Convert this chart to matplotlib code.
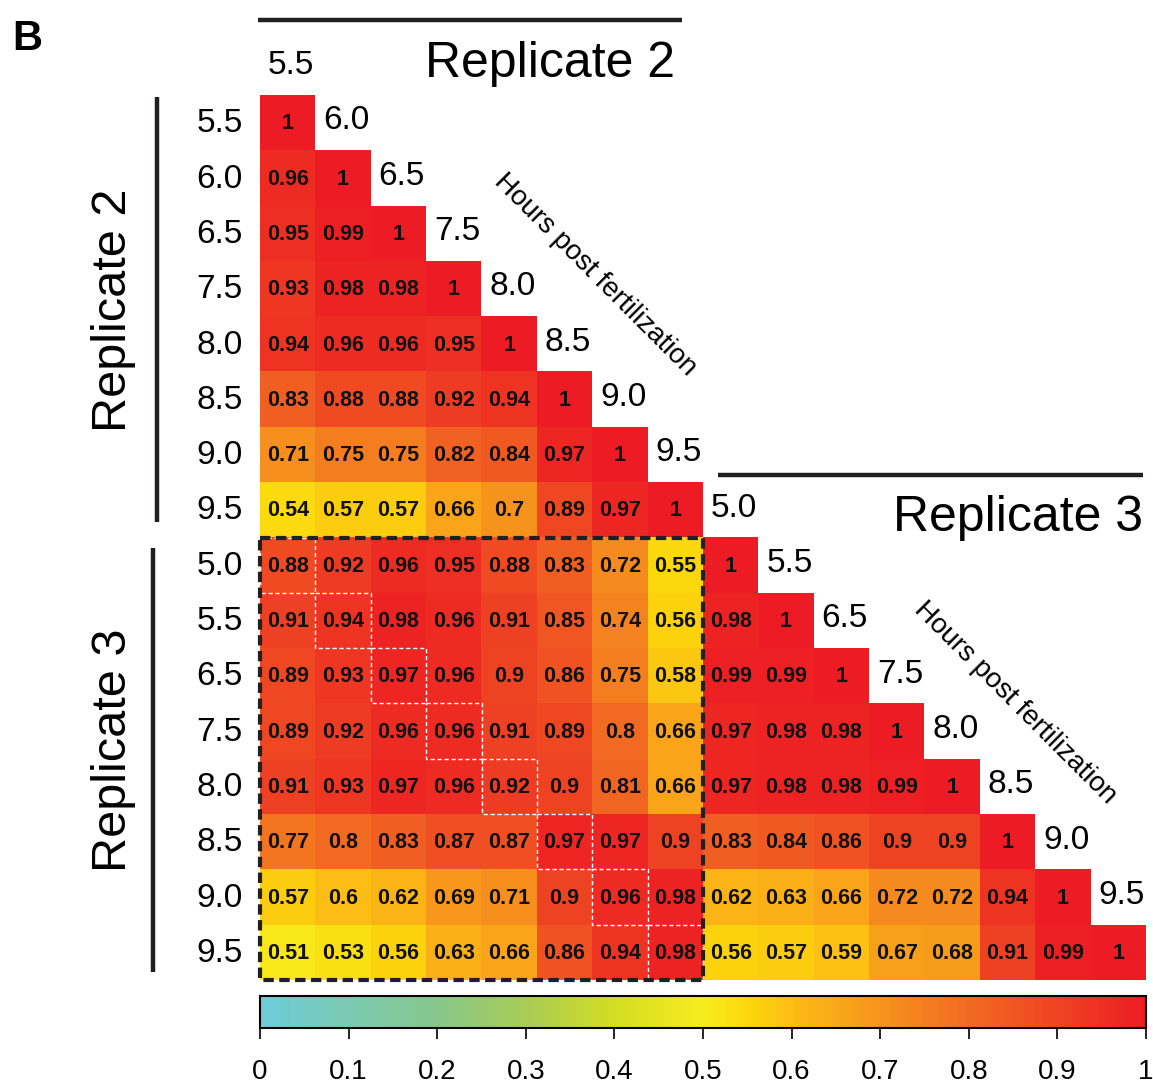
import numpy as np
import matplotlib
matplotlib.use("Agg")
import matplotlib.pyplot as plt
from matplotlib.colors import LinearSegmentedColormap
from matplotlib.patches import Rectangle
from matplotlib.cm import ScalarMappable
from matplotlib.colors import Normalize

plt.rcParams['font.family'] = ['Liberation Sans', 'DejaVu Sans']

# hours post fertilization for each replicate
rep2_hours = ["5.5", "6.0", "6.5", "7.5", "8.0", "8.5", "9.0", "9.5"]
rep3_hours = ["5.0", "5.5", "6.5", "7.5", "8.0", "8.5", "9.0", "9.5"]

# lower triangle, row by row
rep2_vs_rep2 = [
    [1],
    [0.96, 1],
    [0.95, 0.99, 1],
    [0.93, 0.98, 0.98, 1],
    [0.94, 0.96, 0.96, 0.95, 1],
    [0.83, 0.88, 0.88, 0.92, 0.94, 1],
    [0.71, 0.75, 0.75, 0.82, 0.84, 0.97, 1],
    [0.54, 0.57, 0.57, 0.66, 0.7, 0.89, 0.97, 1],
]

rep3_vs_rep2 = [
    [0.88, 0.92, 0.96, 0.95, 0.88, 0.83, 0.72, 0.55],
    [0.91, 0.94, 0.98, 0.96, 0.91, 0.85, 0.74, 0.56],
    [0.89, 0.93, 0.97, 0.96, 0.9, 0.86, 0.75, 0.58],
    [0.89, 0.92, 0.96, 0.96, 0.91, 0.89, 0.8, 0.66],
    [0.91, 0.93, 0.97, 0.96, 0.92, 0.9, 0.81, 0.66],
    [0.77, 0.8, 0.83, 0.87, 0.87, 0.97, 0.97, 0.9],
    [0.57, 0.6, 0.62, 0.69, 0.71, 0.9, 0.96, 0.98],
    [0.51, 0.53, 0.56, 0.63, 0.66, 0.86, 0.94, 0.98],
]

rep3_vs_rep3 = [
    [1],
    [0.98, 1],
    [0.99, 0.99, 1],
    [0.97, 0.98, 0.98, 1],
    [0.97, 0.98, 0.98, 0.99, 1],
    [0.83, 0.84, 0.86, 0.9, 0.9, 1],
    [0.62, 0.63, 0.66, 0.72, 0.72, 0.94, 1],
    [0.56, 0.57, 0.59, 0.67, 0.68, 0.91, 0.99, 1],
]

# build the full 16x16 matrix (nan above diagonal)
n2 = len(rep2_hours)
n = n2 + len(rep3_hours)
M = np.full((n, n), np.nan)
for i, row in enumerate(rep2_vs_rep2):
    M[i, :len(row)] = row
for i, row in enumerate(rep3_vs_rep2):
    M[n2 + i, :n2] = row
for i, row in enumerate(rep3_vs_rep3):
    M[n2 + i, n2:n2 + len(row)] = row

cmap = LinearSegmentedColormap.from_list("cyan_yellow_red", [
    (0.0, "#6DCCDA"), (0.2, "#88C78A"), (0.3, "#A9CC55"), (0.4, "#D3DD22"),
    (0.5, "#F8EC1E"), (0.55, "#FCD80B"), (0.6, "#FCBD14"), (0.7, "#F7941D"),
    (0.8, "#F26A22"), (0.9, "#EF4423"), (1.0, "#ED1C24")])

W, H = 1153, 1084
fig = plt.figure(figsize=(W / 100, H / 100), dpi=100)

# matrix axes, placed in pixel terms
x0, y0, x1, y1 = 260, 95, 1146, 980
ax = fig.add_axes([x0 / W, 1 - y1 / H, (x1 - x0) / W, (y1 - y0) / H])
ax.imshow(np.ma.masked_invalid(M), cmap=cmap, vmin=0, vmax=1, extent=(0, n, n, 0),
          aspect='auto', interpolation='nearest')
ax.set_xlim(0, n)
ax.set_ylim(n, 0)
ax.axis('off')

for i in range(n):
    for j in range(i + 1):
        ax.text(j + 0.5, i + 0.52, f"{M[i, j]:g}", ha='center', va='center',
                fontsize=15.5, fontweight='bold', color='#111111')

all_hours = rep2_hours + rep3_hours
for k, h in enumerate(all_hours):
    # row labels on the left
    ax.text(-0.31, k + 0.52, h, ha='right', va='center', fontsize=24, clip_on=False)
    # column labels along the diagonal
    ax.text(k + 0.56, k - 0.53, h, ha='center', va='center', fontsize=24, clip_on=False)

# replicate brackets
lk = dict(color='#231F20', lw=3.2, clip_on=False, solid_capstyle='butt')
ax.plot([-0.04, 7.62], [-1.36, -1.36], **lk)
ax.plot([8.27, 15.94], [6.87, 6.87], **lk)
ax.plot([-1.86, -1.86], [0.04, 7.72], **lk)
ax.plot([-1.93, -1.93], [8.19, 15.86], **lk)

ax.text(7.5, -0.33, "Replicate 2", ha='right', va='baseline', fontsize=36, clip_on=False)
ax.text(15.94, 7.88, "Replicate 3", ha='right', va='baseline', fontsize=36, clip_on=False)
ax.text(-2.65, 3.9, "Replicate 2", ha='center', va='center', rotation=90, fontsize=35, clip_on=False)
ax.text(-2.65, 11.85, "Replicate 3", ha='center', va='center', rotation=90, fontsize=35, clip_on=False)

ax.text(6.05, 3.25, "Hours post fertilization", ha='center', va='center', rotation=-45,
        fontsize=20, rotation_mode='anchor')
ax.text(13.63, 10.98, "Hours post fertilization", ha='center', va='center', rotation=-45,
        fontsize=20, rotation_mode='anchor')

# replicate 3 vs replicate 2 block
ax.add_patch(Rectangle((0, n2), n2, n2, fill=False, edgecolor='#231F20', lw=3,
                       linestyle=(0, (2.5, 1.3)), clip_on=False, zorder=5))
for k in range(n2):
    ax.add_patch(Rectangle((k, n2 + k), 1, 1, fill=False, edgecolor='white', lw=1,
                           linestyle=(0, (3, 2)), zorder=4))

# colour bar
cax = fig.add_axes([x0 / W, 1 - 1028 / H, (x1 - x0) / W, 32 / H])
cb = fig.colorbar(ScalarMappable(norm=Normalize(0, 1), cmap=cmap), cax=cax, orientation='horizontal')
ticks = np.round(np.arange(0, 1.01, 0.1), 1)
cb.set_ticks(ticks)
cb.set_ticklabels([f"{t:g}" for t in ticks])
cb.outline.set_linewidth(1.5)
cax.tick_params(length=8, width=1.2, labelsize=20, pad=14)

fig.text(12 / W, 1 - 50 / H, "B", fontsize=30, fontweight='bold', ha='left', va='baseline')

fig.savefig("out.png", dpi=100)
